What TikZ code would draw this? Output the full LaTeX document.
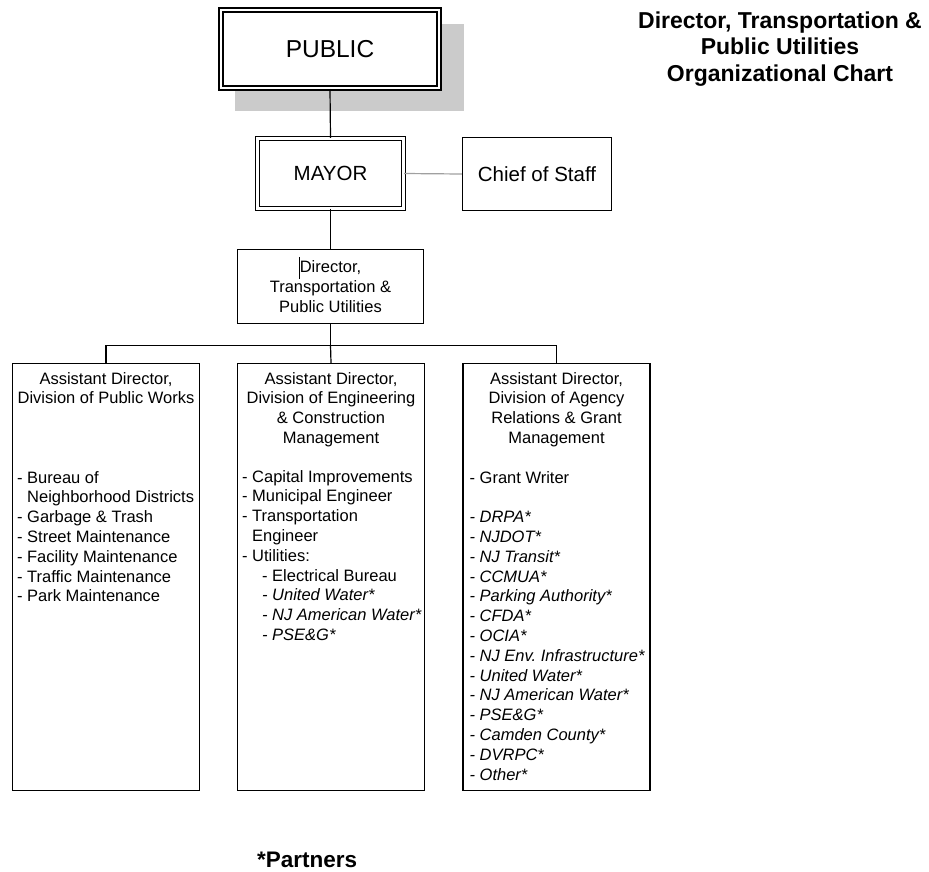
\documentclass[tikz,border=0pt]{standalone}
\usepackage{fontspec}
\setmainfont{Liberation Sans}
\usetikzlibrary{positioning, calc}
\usetikzlibrary{backgrounds}
\definecolor{shadowgray}{HTML}{CBCBCB}
\definecolor{linkgray}{HTML}{A0A0A0}
\newcommand{\bodysize}{\fontsize{16.5}{19.8}\selectfont}
\newcommand{\hang}{\hphantom{- }}
\newcommand{\subindent}{\hspace*{20pt}}
\tikzset{
  unit/.style={draw, line width=1.2pt, fill=white, inner sep=0pt, align=center, font=\bodysize},
  column/.style={unit, minimum width=187pt, minimum height=427pt},
  headtxt/.style={anchor=north, align=center, inner sep=0pt, font=\bodysize},
  listtxt/.style={anchor=north west, align=left, inner sep=0pt, font=\bodysize},
  link/.style={line width=1.2pt}
}

\begin{document}
\begin{tikzpicture}[x=1pt, y=-1pt]
\useasboundingbox (0,0) rectangle (929,871);

\node[align=center, inner sep=0pt, font=\fontsize{23}{26.7}\selectfont\bfseries] (title) at (780,49)
  {Director, Transportation \&\\Public Utilities\\Organizational Chart};

\node[unit, double, double distance=2pt, line width=2pt, minimum width=218pt, minimum height=78pt,
  font=\fontsize{24.5}{29}\selectfont] (pub) at (330,49) {PUBLIC};
\node[unit, double, double distance=2.4pt, line width=1.4pt, minimum width=146pt, minimum height=70pt,
  font=\fontsize{20.5}{24}\selectfont] (mayor) at (330.5,173.5) {MAYOR};
\node[unit, minimum width=149pt, minimum height=73.5pt,
  font=\fontsize{20.5}{24}\selectfont] (chief) at (537,174) {Chief of Staff};
\node[unit, minimum width=186pt, minimum height=74pt] (dir) at (330.5,286.5)
  {Director,\\Transportation \&\\Public Utilities};

\node[column] (pw) at (106,577) {};
\node[column] (ecm) at (331,577) {};
\node[column] (arg) at (556.5,577) {};

\node[headtxt] (pwhead) at ($(pw.north)+(0,9)$) {Assistant Director,\\Division of Public Works};
\node[headtxt] (ecmhead) at ($(ecm.north)+(0,9)$) {Assistant Director,\\Division of Engineering\\\& Construction\\Management};
\node[headtxt] (arghead) at ($(arg.north)+(0,9)$) {Assistant Director,\\Division of Agency\\Relations \& Grant\\Management};

\node[listtxt] (pwlist) at ($(pw.north west)+(5,108)$) {- Bureau of\\\hang Neighborhood Districts\\- Garbage \& Trash\\- Street Maintenance\\- Facility Maintenance\\- Traffic Maintenance\\- Park Maintenance};
\node[listtxt] (ecmlist) at ($(ecm.north west)+(5,107)$) {- Capital Improvements\\- Municipal Engineer\\- Transportation\\\hang Engineer\\- Utilities:\\\subindent - Electrical Bureau\\\subindent\textit{- United Water*}\\\subindent\textit{- NJ American Water*}\\\subindent\textit{- PSE\&G*}};
\node[listtxt] (arglist) at ($(arg.north west)+(7,108)$) {- Grant Writer\\[19.8pt]\textit{- DRPA*}\\\textit{- NJDOT*}\\\textit{- NJ Transit*}\\\textit{- CCMUA*}\\\textit{- Parking Authority*}\\\textit{- CFDA*}\\\textit{- OCIA*}\\\textit{- NJ Env.\ Infrastructure*}\\\textit{- United Water*}\\\textit{- NJ American Water*}\\\textit{- PSE\&G*}\\\textit{- Camden County*}\\\textit{- DVRPC*}\\\textit{- Other*}};

\node[anchor=base west, inner sep=0pt, font=\fontsize{22.5}{27}\selectfont\bfseries] (partners) at (257,867) {*Partners};

\draw[link] (pub.south) -- (mayor.north);
\draw[link, linkgray] (mayor.east) -- (chief.west);
\draw[link] (mayor.south) -- (dir.north);
\draw[link] (dir.south) -- ++(0,21) coordinate (bus);
\draw[link] (pw.north) |- (bus) -| (arg.north);
\draw[link] (bus) -- (ecm.north);
\draw[line width=1.2pt] ($(dir.north)+(-31,8)$) -- ++(0,22);

\begin{scope}[on background layer]
\fill[shadowgray] ($(pub.north west)+(15,15)$) rectangle ($(pub.south east)+(24,22)$);
\end{scope}
\end{tikzpicture}
\end{document}
